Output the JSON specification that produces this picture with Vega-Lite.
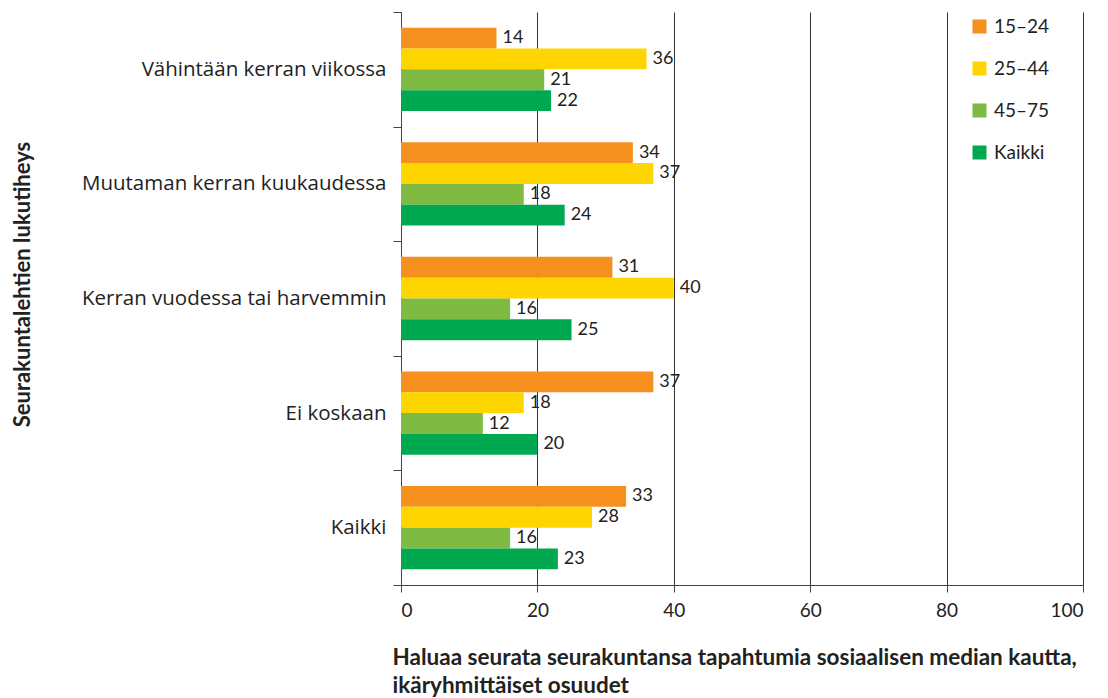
{
  "$schema": "https://vega.github.io/schema/vega-lite/v6.json",
  "autosize": {"type": "none"},
  "padding": {"left": 401, "top": 12, "right": 25, "bottom": 113},
  "width": 682,
  "height": 573,
  "background": "white",
  "data": {"values": [
    {"cat": "Vähintään kerran viikossa", "group": "15–24", "value": 14},
    {"cat": "Vähintään kerran viikossa", "group": "25–44", "value": 36},
    {"cat": "Vähintään kerran viikossa", "group": "45–75", "value": 21},
    {"cat": "Vähintään kerran viikossa", "group": "Kaikki", "value": 22},
    {"cat": "Muutaman kerran kuukaudessa", "group": "15–24", "value": 34},
    {"cat": "Muutaman kerran kuukaudessa", "group": "25–44", "value": 37},
    {"cat": "Muutaman kerran kuukaudessa", "group": "45–75", "value": 18},
    {"cat": "Muutaman kerran kuukaudessa", "group": "Kaikki", "value": 24},
    {"cat": "Kerran vuodessa tai harvemmin", "group": "15–24", "value": 31},
    {"cat": "Kerran vuodessa tai harvemmin", "group": "25–44", "value": 40},
    {"cat": "Kerran vuodessa tai harvemmin", "group": "45–75", "value": 16},
    {"cat": "Kerran vuodessa tai harvemmin", "group": "Kaikki", "value": 25},
    {"cat": "Ei koskaan", "group": "15–24", "value": 37},
    {"cat": "Ei koskaan", "group": "25–44", "value": 18},
    {"cat": "Ei koskaan", "group": "45–75", "value": 12},
    {"cat": "Ei koskaan", "group": "Kaikki", "value": 20},
    {"cat": "Kaikki", "group": "15–24", "value": 33},
    {"cat": "Kaikki", "group": "25–44", "value": 28},
    {"cat": "Kaikki", "group": "45–75", "value": 16},
    {"cat": "Kaikki", "group": "Kaikki", "value": 23}
  ]},
  "encoding": {
    "y": {
      "field": "cat", "type": "nominal",
      "sort": ["Vähintään kerran viikossa", "Muutaman kerran kuukaudessa", "Kerran vuodessa tai harvemmin", "Ei koskaan", "Kaikki"],
      "scale": {"paddingInner": 0, "paddingOuter": 0},
      "axis": {
        "title": "Seurakuntalehtien lukutiheys",
        "titleFont": "Lato", "titleFontSize": 22, "titleFontWeight": "bold", "titleColor": "#222",
        "titleX": -379, "titleY": 272, "titleAngle": -90, "titleAlign": "center", "titleBaseline": "middle",
        "labelFont": "Open Sans", "labelFontSize": 20.5, "labelColor": "#222", "labelPadding": 7, "labelLimit": 400,
        "tickBand": "extent", "tickSize": 8, "tickColor": "#444", "domainColor": "#444",
        "grid": false
      }
    },
    "yOffset": {"field": "group", "type": "nominal", "sort": ["15–24", "25–44", "45–75", "Kaikki"], "scale": {"paddingInner": 0, "paddingOuter": 0.75}},
    "x": {
      "field": "value", "type": "quantitative",
      "scale": {"domain": [0, 100]},
      "axis": {
        "values": [0, 20, 40, 60, 80, 100],
        "title": ["Haluaa seurata seurakuntansa tapahtumia sosiaalisen median kautta,", "ikäryhmittäiset osuudet"],
        "titleFont": "Lato", "titleFontSize": 22.5, "titleFontWeight": "bold", "titleColor": "#222",
        "titleAnchor": "start", "titleAlign": "left", "titleBaseline": "top", "titleX": -9, "titleY": 61, "titleLineHeight": 28,
        "labelFont": "Lato", "labelFontSize": 19, "labelColor": "#222", "labelPadding": 9,
        "tickSize": 7, "tickColor": "#444", "domainColor": "#444",
        "grid": true, "gridColor": "#333", "gridWidth": 1
      }
    }
  },
  "layer": [
    {
      "mark": {"type": "bar"},
      "encoding": {
        "color": {
          "field": "group", "type": "nominal",
          "scale": {"domain": ["15–24", "25–44", "45–75", "Kaikki"], "range": ["#F58F1E", "#FFD500", "#7FBA42", "#00A84F"]},
          "legend": {
            "title": null, "orient": "none", "legendX": 569, "legendY": 5,
            "symbolType": "square", "symbolSize": 196, "symbolStrokeWidth": 0,
            "labelFont": "Lato", "labelFontSize": 19, "labelColor": "#222", "labelOffset": 5,
            "rowPadding": 22
          }
        }
      }
    },
    {
      "mark": {"type": "text", "align": "left", "baseline": "middle", "dx": 6, "font": "Lato", "fontSize": 18, "color": "#222"},
      "encoding": {"text": {"field": "value", "type": "quantitative"}}
    }
  ],
  "config": {"view": {"stroke": null}, "axis": {"domainWidth": 1, "tickWidth": 1}}
}
